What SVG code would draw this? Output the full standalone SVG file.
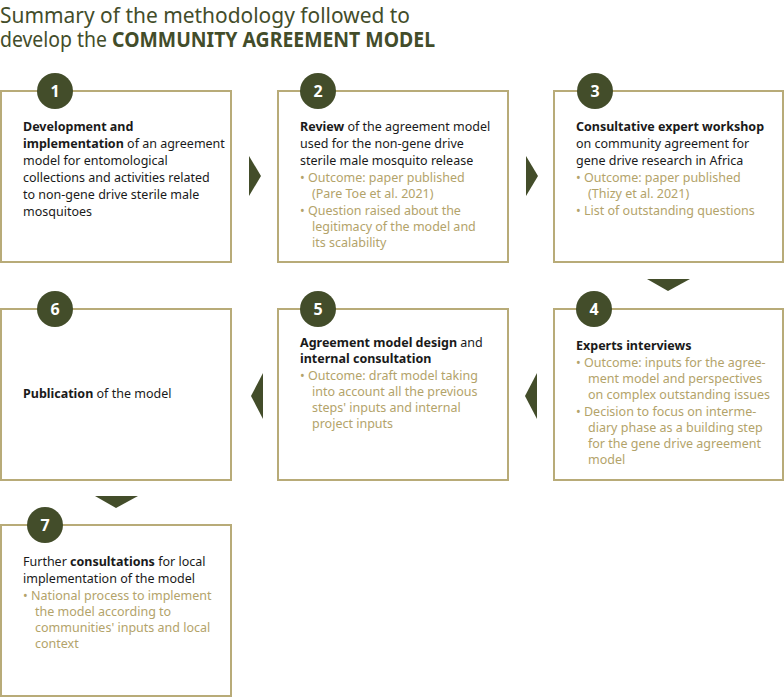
<svg xmlns="http://www.w3.org/2000/svg" width="784" height="698" viewBox="0 0 784 698">
<style>
text{font-family:"Noto Sans","Open Sans",sans-serif;font-size:12.5px;fill:#1a1a1a}
.t{font-size:22px;fill:#434d2a}
.g{fill:#b3a36a}
.b{font-weight:bold}
.box{fill:#fff;stroke:#b8ab78;stroke-width:2}
.c{fill:#434d2a}
.n{fill:#fff;font-weight:bold;font-size:16px;text-anchor:middle}
.ar{fill:#434d2a}
</style>
<rect width="784" height="698" fill="#fff"/>
<text class="t" x="0" y="23" textLength="410" lengthAdjust="spacingAndGlyphs">Summary of the methodology followed to</text>
<text class="t" x="0" y="47" textLength="435" lengthAdjust="spacingAndGlyphs">develop the <tspan font-weight="bold">COMMUNITY AGREEMENT MODEL</tspan></text>
<g id="connectors">
<polygon class="ar" points="249,156 261,176 249,196"/>
<polygon class="ar" points="526,156 538,176 526,196"/>
<polygon class="ar" points="647,279 690,279 668,291"/>
<polygon class="ar" points="537,373 525,396 537,419"/>
<polygon class="ar" points="263,373 251,396 263,419"/>
<polygon class="ar" points="95,496 138,496 116,508"/>
</g>
<g id="n1"><rect class="box" x="1" y="91" width="230" height="171"/><circle class="c" cx="55" cy="91" r="18"/><text class="n" x="55" y="97">1</text>
<text x="23" y="131"><tspan class="b">Development and</tspan></text>
<text x="23" y="148"><tspan class="b">implementation</tspan> of an agreement</text>
<text x="23" y="165">model for entomological</text>
<text x="23" y="182">collections and activities related</text>
<text x="23" y="199">to non-gene drive sterile male</text>
<text x="23" y="216">mosquitoes</text></g>
<g id="n2"><rect class="box" x="278" y="91" width="230" height="171"/><circle class="c" cx="318" cy="91" r="18"/><text class="n" x="318" y="97">2</text>
<text x="300" y="131"><tspan class="b">Review</tspan> of the agreement model</text>
<text x="300" y="148">used for the non-gene drive</text>
<text x="300" y="165">sterile male mosquito release</text>
<text class="g" x="300" y="182">•  Outcome: paper published</text>
<text class="g" x="312" y="198">(Pare Toe et al. 2021)</text>
<text class="g" x="300" y="215">•  Question raised about the</text>
<text class="g" x="312" y="231">legitimacy of the model and</text>
<text class="g" x="312" y="247">its scalability</text></g>
<g id="n3"><rect class="box" x="554" y="91" width="229" height="171"/><circle class="c" cx="595" cy="91" r="18"/><text class="n" x="595" y="97">3</text>
<text x="576" y="131" class="b">Consultative expert workshop</text>
<text x="576" y="148">on community agreement for</text>
<text x="576" y="165">gene drive research in Africa</text>
<text class="g" x="576" y="182">•  Outcome: paper published</text>
<text class="g" x="588" y="198">(Thizy et al. 2021)</text>
<text class="g" x="576" y="215">•  List of outstanding questions</text></g>
<g id="n4"><rect class="box" x="554" y="309" width="229" height="171"/><circle class="c" cx="594" cy="309" r="18"/><text class="n" x="594" y="315">4</text>
<text x="576" y="350" class="b">Experts interviews</text>
<text class="g" x="576" y="367">•  Outcome: inputs for the agree-</text>
<text class="g" x="588" y="383">ment model and perspectives</text>
<text class="g" x="588" y="399">on complex outstanding issues</text>
<text class="g" x="576" y="416">•  Decision to focus on interme-</text>
<text class="g" x="588" y="432">diary phase as a building step</text>
<text class="g" x="588" y="448">for the gene drive agreement</text>
<text class="g" x="588" y="464">model</text></g>
<g id="n5"><rect class="box" x="278" y="309" width="230" height="171"/><circle class="c" cx="318" cy="309" r="18"/><text class="n" x="318" y="315">5</text>
<text x="300" y="347"><tspan class="b">Agreement model design</tspan> and</text>
<text x="300" y="363" class="b">internal consultation</text>
<text class="g" x="300" y="380">•  Outcome: draft model taking</text>
<text class="g" x="312" y="396">into account all the previous</text>
<text class="g" x="312" y="412">steps' inputs and internal</text>
<text class="g" x="312" y="428">project inputs</text></g>
<g id="n6"><rect class="box" x="1" y="309" width="230" height="171"/><circle class="c" cx="55" cy="309" r="18"/><text class="n" x="55" y="315">6</text>
<text x="23" y="398"><tspan class="b">Publication</tspan> of the model</text></g>
<g id="n7"><rect class="box" x="1" y="525" width="230" height="171"/><circle class="c" cx="45" cy="525" r="18"/><text class="n" x="45" y="531">7</text>
<text x="23" y="566">Further <tspan class="b">consultations</tspan> for local</text>
<text x="23" y="583">implementation of the model</text>
<text class="g" x="23" y="600">•  National process to implement</text>
<text class="g" x="35" y="616">the model according to</text>
<text class="g" x="35" y="632">communities' inputs and local</text>
<text class="g" x="35" y="648">context</text></g>
</svg>
